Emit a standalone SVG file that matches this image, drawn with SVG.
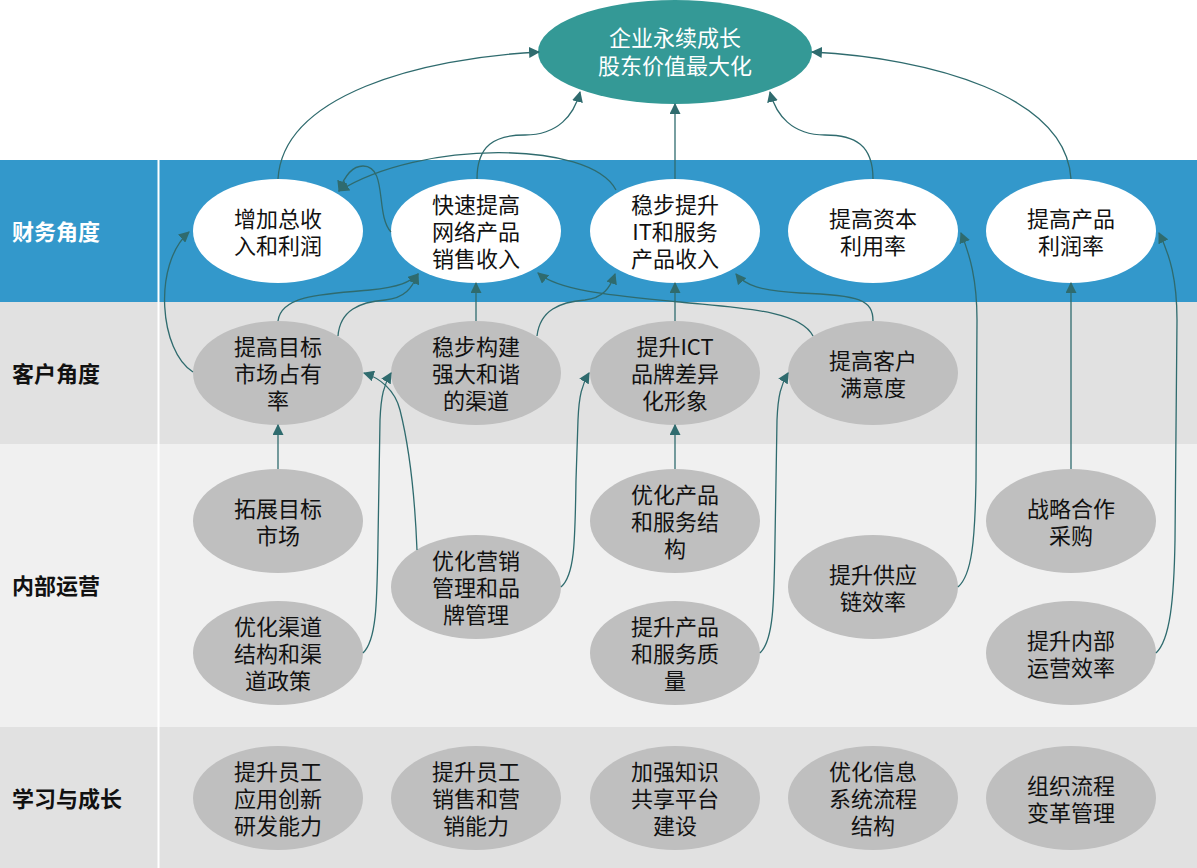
<svg xmlns="http://www.w3.org/2000/svg" width="1197" height="868" viewBox="0 0 1197 868">
<style>
.band-label{font-family:"Noto Sans CJK SC","Noto Sans",sans-serif;font-size:22px;font-weight:bold}
.t{font-family:"Noto Sans CJK SC","Noto Sans",sans-serif;font-size:22px;fill:#111;text-anchor:middle}
.tw{fill:#fff}
.fin{fill:#fff}
.gr{fill:#bfbfbf}
.conn path{fill:none;stroke:#2f6b6e;stroke-width:1.3;marker-end:url(#ah)}
</style>
<defs>
<marker id="ah" viewBox="0 0 10 10" refX="9" refY="5" markerWidth="11" markerHeight="11" markerUnits="userSpaceOnUse" orient="auto">
<path d="M0,0 L10,5 L0,10 z" fill="#2f6b6e"/>
</marker>
</defs>
<rect x="0" y="0" width="1197" height="868" fill="#fff"/>
<g id="bands">
<rect x="0" y="160" width="1197" height="142" fill="#3398cb"/>
<rect x="0" y="302" width="1197" height="142" fill="#e1e1e1"/>
<rect x="0" y="444" width="1197" height="283" fill="#f0f0f0"/>
<rect x="0" y="727" width="1197" height="141" fill="#e1e1e1"/>
<rect x="157.5" y="160" width="2" height="708" fill="#fff"/>
<text class="band-label" x="12" y="240" fill="#fff">财务角度</text>
<text class="band-label" x="12" y="382" fill="#111">客户角度</text>
<text class="band-label" x="12" y="594" fill="#111">内部运营</text>
<text class="band-label" x="12" y="807" fill="#111">学习与成长</text>
</g>
<g id="goal">
<ellipse cx="675" cy="52" rx="137" ry="52" fill="#349996"/>
<text class="t tw" x="675" y="46">企业永续成长<tspan x="675" dy="28">股东价值最大化</tspan></text>
</g>
<g id="f1"><ellipse class="fin" cx="278" cy="231" rx="85" ry="52"/><text class="t" x="278" y="227">增加总收<tspan x="278" dy="27">入和利润</tspan></text></g>
<g id="f2"><ellipse class="fin" cx="476" cy="231" rx="85" ry="52"/><text class="t" x="476" y="213">快速提高<tspan x="476" dy="27">网络产品</tspan><tspan x="476" dy="27">销售收入</tspan></text></g>
<g id="f3"><ellipse class="fin" cx="675" cy="231" rx="85" ry="52"/><text class="t" x="675" y="213">稳步提升<tspan x="675" dy="27">IT和服务</tspan><tspan x="675" dy="27">产品收入</tspan></text></g>
<g id="f4"><ellipse class="fin" cx="873" cy="231" rx="85" ry="52"/><text class="t" x="873" y="227">提高资本<tspan x="873" dy="27">利用率</tspan></text></g>
<g id="f5"><ellipse class="fin" cx="1071" cy="231" rx="85" ry="52"/><text class="t" x="1071" y="227">提高产品<tspan x="1071" dy="27">利润率</tspan></text></g>
<g id="c1"><ellipse class="gr" cx="278" cy="373" rx="85" ry="52"/><text class="t" x="278" y="355">提高目标<tspan x="278" dy="27">市场占有</tspan><tspan x="278" dy="27">率</tspan></text></g>
<g id="c2"><ellipse class="gr" cx="476" cy="373" rx="85" ry="52"/><text class="t" x="476" y="355">稳步构建<tspan x="476" dy="27">强大和谐</tspan><tspan x="476" dy="27">的渠道</tspan></text></g>
<g id="c3"><ellipse class="gr" cx="675" cy="373" rx="85" ry="52"/><text class="t" x="675" y="355">提升ICT<tspan x="675" dy="27">品牌差异</tspan><tspan x="675" dy="27">化形象</tspan></text></g>
<g id="c4"><ellipse class="gr" cx="873" cy="373" rx="85" ry="52"/><text class="t" x="873" y="369">提高客户<tspan x="873" dy="27">满意度</tspan></text></g>
<g id="i1"><ellipse class="gr" cx="278" cy="521" rx="85" ry="52"/><text class="t" x="278" y="517">拓展目标<tspan x="278" dy="27">市场</tspan></text></g>
<g id="i2"><ellipse class="gr" cx="278" cy="653" rx="85" ry="52"/><text class="t" x="278" y="635">优化渠道<tspan x="278" dy="27">结构和渠</tspan><tspan x="278" dy="27">道政策</tspan></text></g>
<g id="i3"><ellipse class="gr" cx="476" cy="587" rx="85" ry="52"/><text class="t" x="476" y="569">优化营销<tspan x="476" dy="27">管理和品</tspan><tspan x="476" dy="27">牌管理</tspan></text></g>
<g id="i4"><ellipse class="gr" cx="675" cy="521" rx="85" ry="52"/><text class="t" x="675" y="503">优化产品<tspan x="675" dy="27">和服务结</tspan><tspan x="675" dy="27">构</tspan></text></g>
<g id="i5"><ellipse class="gr" cx="675" cy="653" rx="85" ry="52"/><text class="t" x="675" y="635">提升产品<tspan x="675" dy="27">和服务质</tspan><tspan x="675" dy="27">量</tspan></text></g>
<g id="i6"><ellipse class="gr" cx="873" cy="587" rx="85" ry="52"/><text class="t" x="873" y="583">提升供应<tspan x="873" dy="27">链效率</tspan></text></g>
<g id="i7"><ellipse class="gr" cx="1071" cy="521" rx="85" ry="52"/><text class="t" x="1071" y="517">战略合作<tspan x="1071" dy="27">采购</tspan></text></g>
<g id="i8"><ellipse class="gr" cx="1071" cy="653" rx="85" ry="52"/><text class="t" x="1071" y="649">提升内部<tspan x="1071" dy="27">运营效率</tspan></text></g>
<g id="l1"><ellipse class="gr" cx="278" cy="798" rx="85" ry="52"/><text class="t" x="278" y="780">提升员工<tspan x="278" dy="27">应用创新</tspan><tspan x="278" dy="27">研发能力</tspan></text></g>
<g id="l2"><ellipse class="gr" cx="476" cy="798" rx="85" ry="52"/><text class="t" x="476" y="780">提升员工<tspan x="476" dy="27">销售和营</tspan><tspan x="476" dy="27">销能力</tspan></text></g>
<g id="l3"><ellipse class="gr" cx="675" cy="798" rx="85" ry="52"/><text class="t" x="675" y="780">加强知识<tspan x="675" dy="27">共享平台</tspan><tspan x="675" dy="27">建设</tspan></text></g>
<g id="l4"><ellipse class="gr" cx="873" cy="798" rx="85" ry="52"/><text class="t" x="873" y="780">优化信息<tspan x="873" dy="27">系统流程</tspan><tspan x="873" dy="27">结构</tspan></text></g>
<g id="l5"><ellipse class="gr" cx="1071" cy="798" rx="85" ry="52"/><text class="t" x="1071" y="794">组织流程<tspan x="1071" dy="27">变革管理</tspan></text></g>
<g id="connectors" class="conn">
<path d="M278,179 C283,95 420,58 539,52"/>
<path d="M477,179 C477,145 495,135 525,135 C558,135 574,115 580,92"/>
<path d="M675,179 L675,104"/>
<path d="M873,179 C873,145 855,135 825,135 C792,135 776,115 770,92"/>
<path d="M1071,179 C1066,95 930,58 812,52"/>
<path d="M616,190 C590,140 420,140 339,191"/>
<path d="M391,232 C375,215 388,166 363,166 C352,166 345,175 339,191"/>
<path d="M193,372 C160,352 152,265 189,232"/>
<path d="M278,321 C281,296 320,294 370,290 C400,287 410,282 418,274"/>
<path d="M338,336 C340,310 360,302 385,300 C405,298 412,288 418,274"/>
<path d="M476,321 L476,283"/>
<path d="M537,336 C540,310 560,302 585,300 C603,298 610,288 615,274"/>
<path d="M813,336 C800,310 740,308 680,302 C620,296 560,292 538,273"/>
<path d="M675,321 L675,283"/>
<path d="M873,321 C873,300 860,295 800,293 C760,291 745,285 736,274"/>
<path d="M278,469 L278,425"/>
<path d="M363,653 C377,640 377,600 378,540 L380,420 C381,395 384,385 391,373"/>
<path d="M417,550 C415,500 410,450 400,410 C395,390 380,378 364,373"/>
<path d="M561,587 C575,575 575,540 576,480 L578,420 C579,395 582,385 589,373"/>
<path d="M675,469 L675,425"/>
<path d="M760,653 C774,640 774,600 775,540 L777,420 C778,395 781,385 788,373"/>
<path d="M958,587 C972,575 975,540 976,480 L977,320 C977,280 970,255 961,233"/>
<path d="M1071,469 L1071,283"/>
<path d="M1156,653 C1170,640 1174,600 1175,540 L1177,320 C1177,280 1170,255 1159,233"/>
</g>
</svg>
